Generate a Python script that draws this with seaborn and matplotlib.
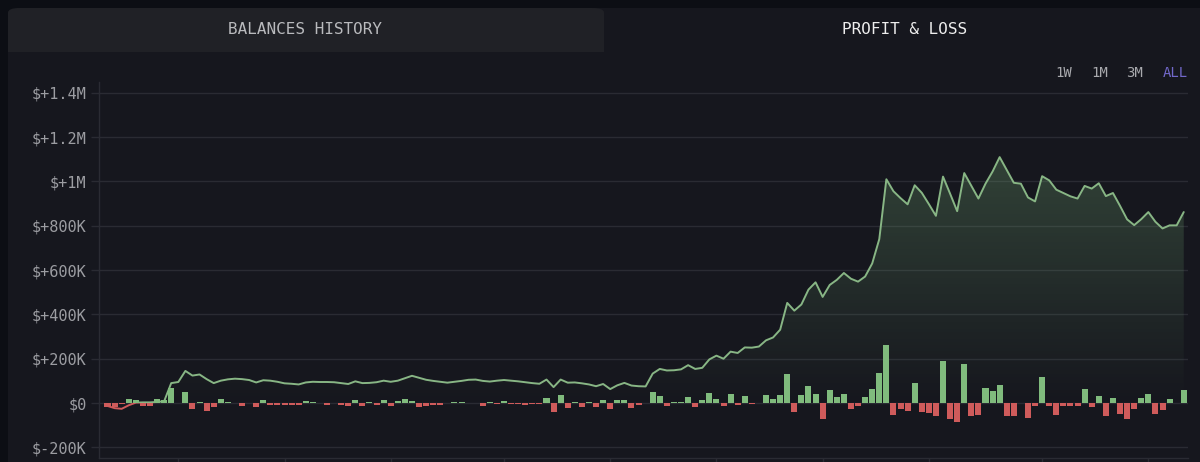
import numpy as np
import pandas as pd
import seaborn as sns
import matplotlib.pyplot as plt
from matplotlib.patches import Rectangle, FancyBboxPatch

# daily profit & loss (thousands of $)
daily_pnl = [
    -20, -18, -3, 18, 13, -12, -15, 18, 14, 70, 1, 50, -25, 6, -35, -18, 18, 5, 1, -13,
    2, -18, 12, -7, -7, -10, -7, -7, 10, 5, -2, -9, -2, -8, -12, 15, -13, 7, -8, 13,
    -13, 8, 18, 8, -18, -12, -8, -8, -2, 6, 6, 2, 1, -12, 3, -5, 8, -5, -5, -7,
    -5, -5, 23, -40, 35, -22, 5, -18, 5, -18, 12, -27, 12, 12, -22, -10, 1, 48, 30, -15,
    5, 7, 27, -18, 12, 45, 18, -14, 39, -9, 32, -6, -2, 36, 17, 36, 131, -41, 35, 75,
    41, -74, 57, 27, 41, -26, -14, 27, 65, 136, 261, -56, -26, -36, 92, -41, -45, -60, 189, -71,
    -86, 175, -60, -53, 69, 54, 80, -57, -60, -2, -68, -15, 118, -14, -53, -14, -14, -14, 65, -18,
    30, -60, 21, -48, -74, -26, 24, 42, -48, -30, 17, 2, 60,
]

# cumulative profit & loss line (thousands of $)
cum_pnl = [
    -13, -23, -26, -10, 2, 3, 3, 5, 8, 90, 95, 145, 124, 129, 108, 90, 101, 107, 110, 108,
    104, 93, 103, 101, 96, 89, 87, 84, 93, 96, 95, 95, 94, 90, 86, 98, 90, 91, 94, 101,
    96, 101, 112, 123, 114, 105, 100, 96, 92, 96, 100, 105, 106, 100, 97, 101, 104, 101, 98, 94,
    90, 87, 106, 72, 106, 92, 93, 89, 84, 76, 86, 63, 80, 91, 79, 76, 75, 133, 154, 147,
    148, 152, 171, 154, 159, 197, 214, 200, 232, 226, 251, 250, 255, 283, 296, 331, 452, 417, 445, 512,
    545, 479, 533, 556, 587, 561, 548, 571, 630, 740, 1010, 956, 925, 897, 983, 949, 898, 845, 1022, 945,
    866, 1038, 980, 923, 990, 1045, 1110, 1052, 994, 990, 928, 910, 1024, 1005, 963, 948, 933, 923, 980, 968,
    992, 934, 948, 890, 829, 803, 830, 862, 818, 788, 802, 802, 862,
]

ytick_values = [-200, 0, 200, 400, 600, 800, 1000, 1200, 1400]
ytick_labels = ['$-200K', '$0', '$+200K', '$+400K', '$+600K', '$+800K', '$+1M', '$+1.2M', '$+1.4M']
xtick_positions = [10, 25, 40, 56, 71, 86, 101, 116, 132, 147]
range_buttons = ['1W', '1M', '3M', 'ALL']

df = pd.DataFrame({
    'day': np.arange(len(daily_pnl)),
    'pnl': np.array(daily_pnl) * 1000.0,
    'cum': np.array(cum_pnl) * 1000.0,
})
df['sign'] = np.where(df['pnl'] >= 0, 'up', 'down')

GREEN = '#80bb7d'
LINE_GREEN = '#88b685'
RED = '#cf5b5b'
CARD = '#16171e'
OUTER = '#0c0e14'
GRID = '#2a2b33'
MONO = 'DejaVu Sans Mono'

sns.set_style('dark')
plt.rcParams['font.family'] = [MONO, 'DejaVu Sans']

W, H = 1200, 462
fig = plt.figure(figsize=(12, 4.62), dpi=100, facecolor=OUTER)

# card + tabs (behind the axes)
card = FancyBboxPatch((8 / W, -0.05), 1.2, (454 / H) + 0.05, boxstyle='round,pad=0,rounding_size=0.012',
                      transform=fig.transFigure, facecolor=CARD, edgecolor='none', zorder=-3)
fig.patches.append(card)
tab = FancyBboxPatch((8 / W, 410 / H), 596 / W, 44 / H, boxstyle='round,pad=0,rounding_size=0.01',
                     transform=fig.transFigure, facecolor='#202126', edgecolor='none', zorder=-2)
fig.patches.append(tab)
fig.patches.append(Rectangle((8 / W, 410 / H), 596 / W, 15 / H, transform=fig.transFigure,
                             facecolor='#202126', edgecolor='none', zorder=-2))
fig.text(305 / W, 1 - 30 / H, 'BALANCES HISTORY', color='#b9babd', fontsize=11.5, ha='center', va='center')
fig.text(905 / W, 1 - 30 / H, 'PROFIT & LOSS', color='#eeeeee', fontsize=11.5, ha='center', va='center')
for label, xp in zip(range_buttons, [1064, 1100, 1134, 1175]):
    fig.text(xp / W, 1 - 73 / H, label, fontsize=10, ha='center', va='center',
             color='#7168c9' if label == 'ALL' else '#a9aaae')

ax = fig.add_axes([99 / W, 4 / H, 1089 / W, 376 / H])
ax.set_facecolor(CARD)

# gradient fill under the cumulative line
ymax = df['cum'].max()
poly = ax.fill_between(df['day'], 0, df['cum'].clip(lower=0), facecolor='none', edgecolor='none')
grad = np.zeros((256, 1, 4))
grad[:, 0, 0] = 0.45
grad[:, 0, 1] = 0.66
grad[:, 0, 2] = 0.45
grad[:, 0, 3] = np.linspace(0.0, 0.30, 256)
im = ax.imshow(grad, extent=[df['day'].iloc[0], df['day'].iloc[-1], 0, ymax], origin='lower',
               aspect='auto', zorder=1)
im.set_clip_path(poly.get_paths()[0], transform=ax.transData)

# cumulative line, green above zero and red below
for col, clip_y, clip_h in [(LINE_GREEN, 0, 5e6), (RED, -5e6, 5e6)]:
    sns.lineplot(x=df['day'], y=df['cum'], color=col, linewidth=1.4, ax=ax, zorder=2)
    clip = Rectangle((-10, clip_y), 400, clip_h, transform=ax.transData)
    ax.lines[-1].set_clip_path(clip)

# daily bars
sns.barplot(data=df, x='day', y='pnl', hue='sign', palette={'up': GREEN, 'down': RED},
            native_scale=True, dodge=False, width=0.85, saturation=1, errorbar=None,
            legend=False, ax=ax, zorder=3, linewidth=0, edgecolor='none')

ax.set_xlim(-1.2, 152.6)
ax.set_ylim(-248e3, 1449e3)
ax.set_yticks([v * 1000 for v in ytick_values])
ax.set_yticklabels(ytick_labels)
ax.set_xticks(xtick_positions)
ax.set_xticklabels([])
ax.set_xlabel('')
ax.set_ylabel('')
ax.grid(axis='y', color=GRID, linewidth=1)
ax.grid(axis='x', visible=False)
ax.set_axisbelow(True)
ax.tick_params(axis='y', colors=GRID, labelcolor='#9c9da2', labelsize=11, length=6, width=1, pad=3, left=True)
ax.tick_params(axis='x', colors=GRID, length=5, width=1, bottom=True)
for side in ['top', 'right']:
    ax.spines[side].set_visible(False)
for side in ['left', 'bottom']:
    ax.spines[side].set_visible(True)
    ax.spines[side].set_color(GRID)
    ax.spines[side].set_linewidth(1)

fig.savefig('out.png', dpi=100, facecolor=OUTER)
